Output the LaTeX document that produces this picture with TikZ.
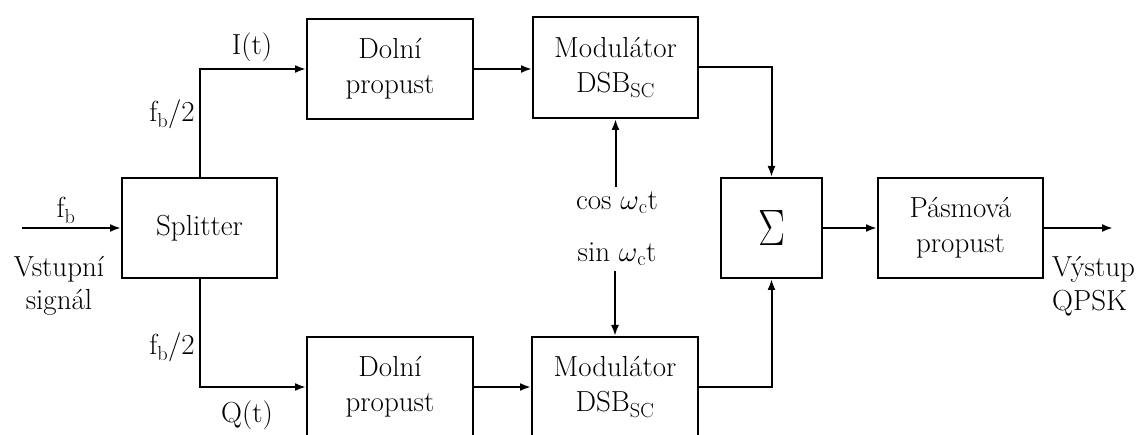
\documentclass[tikz,border=0pt]{standalone}
\usepackage{graphicx}
\usetikzlibrary{arrows.meta}
\newcommand{\om}{\resizebox{!}{12.4pt}{$\omega$}}
\begin{document}
\begin{tikzpicture}[x=1pt,y=-1pt,
  box/.style={draw,line width=2pt,inner sep=0pt,align=center,
    font=\fontsize{29}{35}\selectfont},
  lbl/.style={inner sep=0pt,font=\fontsize{29}{35}\selectfont},
  conn/.style={line width=2pt,-{Latex[length=11pt,width=8pt]}}]
\useasboundingbox (0,0) rectangle (1137,435);
% blocks
\node[box,minimum width=155pt,minimum height=100pt] (split) at (199.5,228) {Splitter};
\node[box,minimum width=166pt,minimum height=100pt] (lp1) at (390,69) {Doln\'{\i}\\propust};
\node[box,minimum width=165pt,minimum height=101pt] (mod1) at (615.5,67.5) {Modul\'ator\\DSB\textsubscript{SC}};
\node[box,minimum width=101pt,minimum height=100pt] (sum) at (771.5,228)
  {\resizebox{27pt}{35pt}{$\Sigma$}};
\node[box,minimum width=165pt,minimum height=100pt] (bp) at (960.5,228) {P\'asmov\'a\\propust};
\node[box,minimum width=166pt,minimum height=100pt] (lp2) at (390,387) {Doln\'{\i}\\propust};
\node[box,minimum width=166pt,minimum height=100pt] (mod2) at (615,387) {Modul\'ator\\DSB\textsubscript{SC}};
% free ends
\coordinate (in) at (22,228);
\coordinate (out) at (1113,228);
% labels
\node[lbl,anchor=base] (fb) at (66,218) {f\textsubscript{b}};
\node[lbl,anchor=north,align=center,font=\fontsize{29}{33}\selectfont] (vin) at (59,256) {Vstupn\'{\i}\\sign\'al};
\node[lbl,anchor=base] (it) at (252,55) {I(t)};
\node[lbl,anchor=base] (fb1) at (172,122) {f\textsubscript{b}/2};
\node[lbl,anchor=base] (fb2) at (172,355) {f\textsubscript{b}/2};
\node[lbl,anchor=base] (qt) at (247,422) {Q(t)};
\node[lbl,anchor=base] (cos) at (617,210) {cos \om\textsubscript{c}t};
\node[lbl,anchor=base] (sin) at (617,262) {sin \om\textsubscript{c}t};
\node[lbl,anchor=north west,align=left,font=\fontsize{29}{34}\selectfont] (vout) at (1052,256) {V\'ystup\\QPSK};
% connectors
\draw[conn] (in) -- (split.west |- in);
\draw[conn] (split.north) |- (lp1.west);
\draw[conn] (split.south) |- (lp2.west);
\draw[conn] (lp1.east) -- (lp1.east -| mod1.west);
\draw[conn] (lp2.east) -- (lp2.east -| mod2.west);
\draw[conn] ([yshift=5pt]cos.north -| mod1.south) -- (mod1.south);
\draw[conn] ([yshift=-5pt]sin.south -| mod2.north) -- (mod2.north);
\draw[conn] (mod1.east) -| (sum.north);
\draw[conn] (mod2.east) -| (sum.south);
\draw[conn] (sum.east) -- (bp.west);
\draw[conn] (bp.east) -- (bp.east -| out);
\end{tikzpicture}
\end{document}
